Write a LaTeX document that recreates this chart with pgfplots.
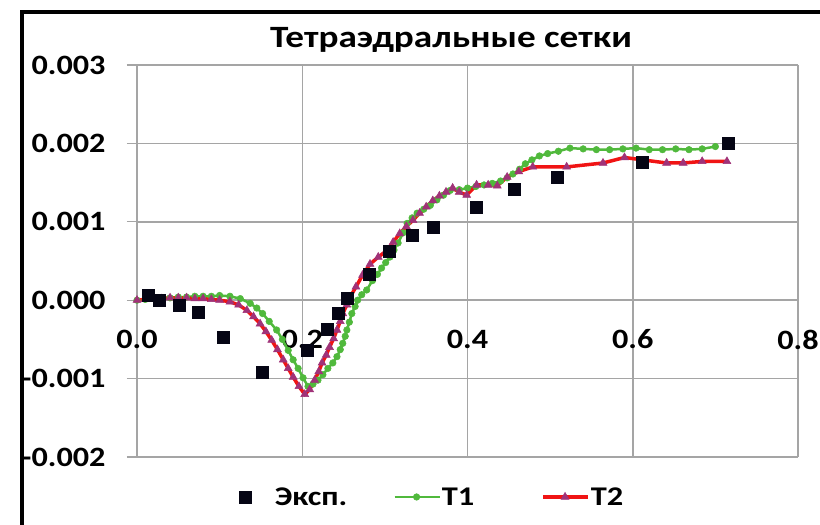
\documentclass[border=0pt]{standalone}
\usepackage{fontspec}
\setmainfont{Carlito}
\newfontfamily\titlefont{Carlito}[FakeStretch=1.2]
\newfontfamily\tickfont{Carlito}[FakeStretch=1.15]
\newfontfamily\legfont{Carlito}[FakeStretch=1.2]
\usepackage{pgfplots}
\pgfplotsset{compat=1.18}
\definecolor{gridgray}{RGB}{165,165,165}
\definecolor{tgreen}{RGB}{80,185,60}
\definecolor{tred}{RGB}{240,20,20}
\definecolor{tpurple}{RGB}{160,50,120}
\definecolor{expblack}{RGB}{5,5,20}
\begin{document}
\begin{tikzpicture}[x=1pt,y=1pt]
\useasboundingbox (0,0) rectangle (820,525);
\fill[white] (0,0) rectangle (820,525);
\draw[black, line width=4pt] (22,-5) -- (22,513) -- (830,513);
\begin{axis}[
  at={(137pt,68pt)}, anchor=south west,
  scale only axis, width=661pt, height=392pt,
  xmin=0, xmax=0.8, ymin=-0.002, ymax=0.003,
  xtick={0,0.2,0.4,0.6,0.8},
  ytick={-0.002,-0.001,0,0.001,0.002,0.003},
  axis x line=middle, axis y line=left,
  axis line style={-, draw=gridgray, line width=1.5pt},
  hide obscured x ticks=false, hide obscured y ticks=false,
  grid=major,
  major grid style={draw=gridgray, line width=1.5pt},
  tick style={draw=gridgray, line width=1.3pt},
  major tick length=10pt,
  ytick align=outside, xtick align=center,
  /pgf/number format/assume math mode=true,
  scaled y ticks=false, scaled x ticks=false,
  xticklabel style={/pgf/number format/.cd, fixed, fixed zerofill, precision=1, /tikz/.cd, font=\tickfont\bfseries\fontsize{28}{28}\selectfont, yshift=-21pt},
  yticklabel style={/pgf/number format/.cd, fixed, fixed zerofill, precision=3, /tikz/.cd, font=\tickfont\bfseries\fontsize{28}{28}\selectfont, xshift=-18pt},
  title={Тетраэдральные сетки},
  title style={at={(axis description cs:0.475,1.048)}, anchor=center, font=\titlefont\bfseries\fontsize{31}{31}\selectfont},
  legend columns=3,
  legend style={at={(axis description cs:0.148,-0.102)}, anchor=west, draw=none, fill=none,
    inner sep=0pt, outer sep=0pt,
    font=\legfont\bfseries\fontsize{27}{27}\selectfont,
    nodes={inner xsep=1pt},
    /tikz/column 2/.style={column sep=45pt},
    /tikz/column 4/.style={column sep=66pt}},
  clip=false,
]
\addplot[only marks, mark=square*, mark size=6pt, mark options={fill=expblack, draw=expblack},
  legend image code/.code={\path[draw=none] (-10pt,0pt) (29pt,0pt); \draw plot coordinates {(0pt,0pt)};}] coordinates {
(0.0133,0.000064) (0.0266,0.0) (0.051,-0.000064) (0.074,-0.000153) (0.104,-0.00047)
(0.151,-0.00092) (0.206,-0.00064) (0.230,-0.00037) (0.243,-0.000166) (0.254,0.000025)
(0.281,0.00033) (0.305,0.00062) (0.333,0.00083) (0.359,0.00093) (0.410,0.00118)
(0.456,0.00141) (0.509,0.00157) (0.611,0.00176) (0.715,0.00200)
};
\addlegendentry{Эксп.}
\addplot[tgreen, line width=2.5pt, mark=*, mark size=3.3pt, mark options={fill=tgreen, draw=tgreen, line width=0.5pt},
  legend image code/.code={\draw[mark repeat=2,mark phase=2] plot coordinates {(0pt,0pt) (22pt,0pt) (45pt,0pt)};}] coordinates {
(0.000,0) (0.010,0.00001) (0.020,0.00002) (0.030,0.00003) (0.040,0.00003) (0.050,0.00004)
(0.060,0.00004) (0.070,0.00005) (0.080,0.00005) (0.090,0.00005) (0.100,0.00006) (0.1125,0.00005)
(0.125,0.00002) (0.137,-0.00004) (0.145,-0.00010) (0.152,-0.00017) (0.160,-0.00027) (0.169,-0.00038)
(0.176,-0.00050) (0.183,-0.00064) (0.189,-0.00076) (0.195,-0.00087) (0.201,-0.00099) (0.207,-0.00110)
(0.213,-0.00107) (0.219,-0.00102) (0.225,-0.00095) (0.231,-0.00087) (0.237,-0.00080) (0.242,-0.00072)
(0.246,-0.00063) (0.249,-0.00055) (0.252,-0.00046) (0.254,-0.00038) (0.257,-0.00028) (0.260,-0.00017)
(0.264,-0.00008) (0.267,0.00000) (0.272,0.00007) (0.278,0.00013) (0.285,0.00025) (0.291,0.00033)
(0.296,0.00041) (0.301,0.00048) (0.306,0.00055) (0.311,0.00064) (0.316,0.00073) (0.322,0.00086)
(0.327,0.00098) (0.333,0.00105) (0.339,0.00111) (0.347,0.00116) (0.355,0.00121) (0.363,0.00128)
(0.371,0.00134) (0.379,0.00140) (0.390,0.00141) (0.400,0.00143) (0.410,0.00145) (0.420,0.00147)
(0.430,0.00149) (0.440,0.00152) (0.448,0.00156) (0.455,0.00161) (0.463,0.00167) (0.470,0.00174)
(0.478,0.00179) (0.487,0.00184) (0.497,0.00187) (0.510,0.00190) (0.524,0.00194) (0.540,0.00193)
(0.556,0.00192) (0.572,0.00192) (0.588,0.00193) (0.604,0.00194) (0.620,0.00192) (0.636,0.00192)
(0.652,0.00193) (0.668,0.00192) (0.684,0.00193) (0.700,0.00196)
};
\addlegendentry{T1}
\addplot[tred, line width=3.5pt, mark=triangle*, mark size=4.6pt, mark options={fill=tpurple, draw=tpurple, line width=0.5pt},
  legend image code/.code={\draw[mark repeat=2,mark phase=2] plot coordinates {(0pt,0pt) (22pt,0pt) (45pt,0pt)};}] coordinates {
(0.000,0) (0.010,0.00001) (0.020,0.00002) (0.030,0.00002) (0.040,0.00003) (0.050,0.00003)
(0.060,0.00003) (0.070,0.00002) (0.080,0.00002) (0.090,0.00001) (0.100,0.00000) (0.1125,-0.00002)
(0.123,-0.00006) (0.133,-0.00013) (0.141,-0.00021) (0.149,-0.00030) (0.156,-0.00040) (0.163,-0.00051)
(0.170,-0.00063) (0.177,-0.00076) (0.183,-0.00087) (0.189,-0.00098) (0.196,-0.00110) (0.203,-0.00120)
(0.209,-0.00114) (0.215,-0.00102) (0.220,-0.00091) (0.224,-0.00080) (0.229,-0.00070) (0.233,-0.00060)
(0.238,-0.00049) (0.242,-0.00038) (0.246,-0.00027) (0.249,-0.00017) (0.254,-0.00006) (0.258,0.00004)
(0.265,0.00017) (0.273,0.00032) (0.282,0.00046) (0.292,0.00055) (0.302,0.00063) (0.310,0.00074)
(0.318,0.00085) (0.326,0.00094) (0.334,0.00102) (0.342,0.00111) (0.350,0.00119) (0.358,0.00127)
(0.366,0.00133) (0.374,0.00138) (0.382,0.00143) (0.390,0.00138) (0.399,0.00134) (0.411,0.00147)
(0.425,0.00147) (0.436,0.00146) (0.448,0.00157) (0.462,0.00164) (0.479,0.00170) (0.520,0.00170)
(0.564,0.00175) (0.590,0.00182) (0.641,0.00175) (0.661,0.00175) (0.684,0.00177) (0.714,0.00177)
};
\addlegendentry{T2}
\addplot[forget plot, only marks, mark=square*, mark size=6pt, mark options={fill=expblack, draw=expblack}] coordinates {
(0.0133,0.000064) (0.0266,0.0) (0.051,-0.000064) (0.074,-0.000153) (0.104,-0.00047)
(0.151,-0.00092) (0.206,-0.00064) (0.230,-0.00037) (0.243,-0.000166) (0.254,0.000025)
(0.281,0.00033) (0.305,0.00062) (0.333,0.00083) (0.359,0.00093) (0.410,0.00118)
(0.456,0.00141) (0.509,0.00157) (0.611,0.00176) (0.715,0.00200)
};
\end{axis}
\end{tikzpicture}
\end{document}
